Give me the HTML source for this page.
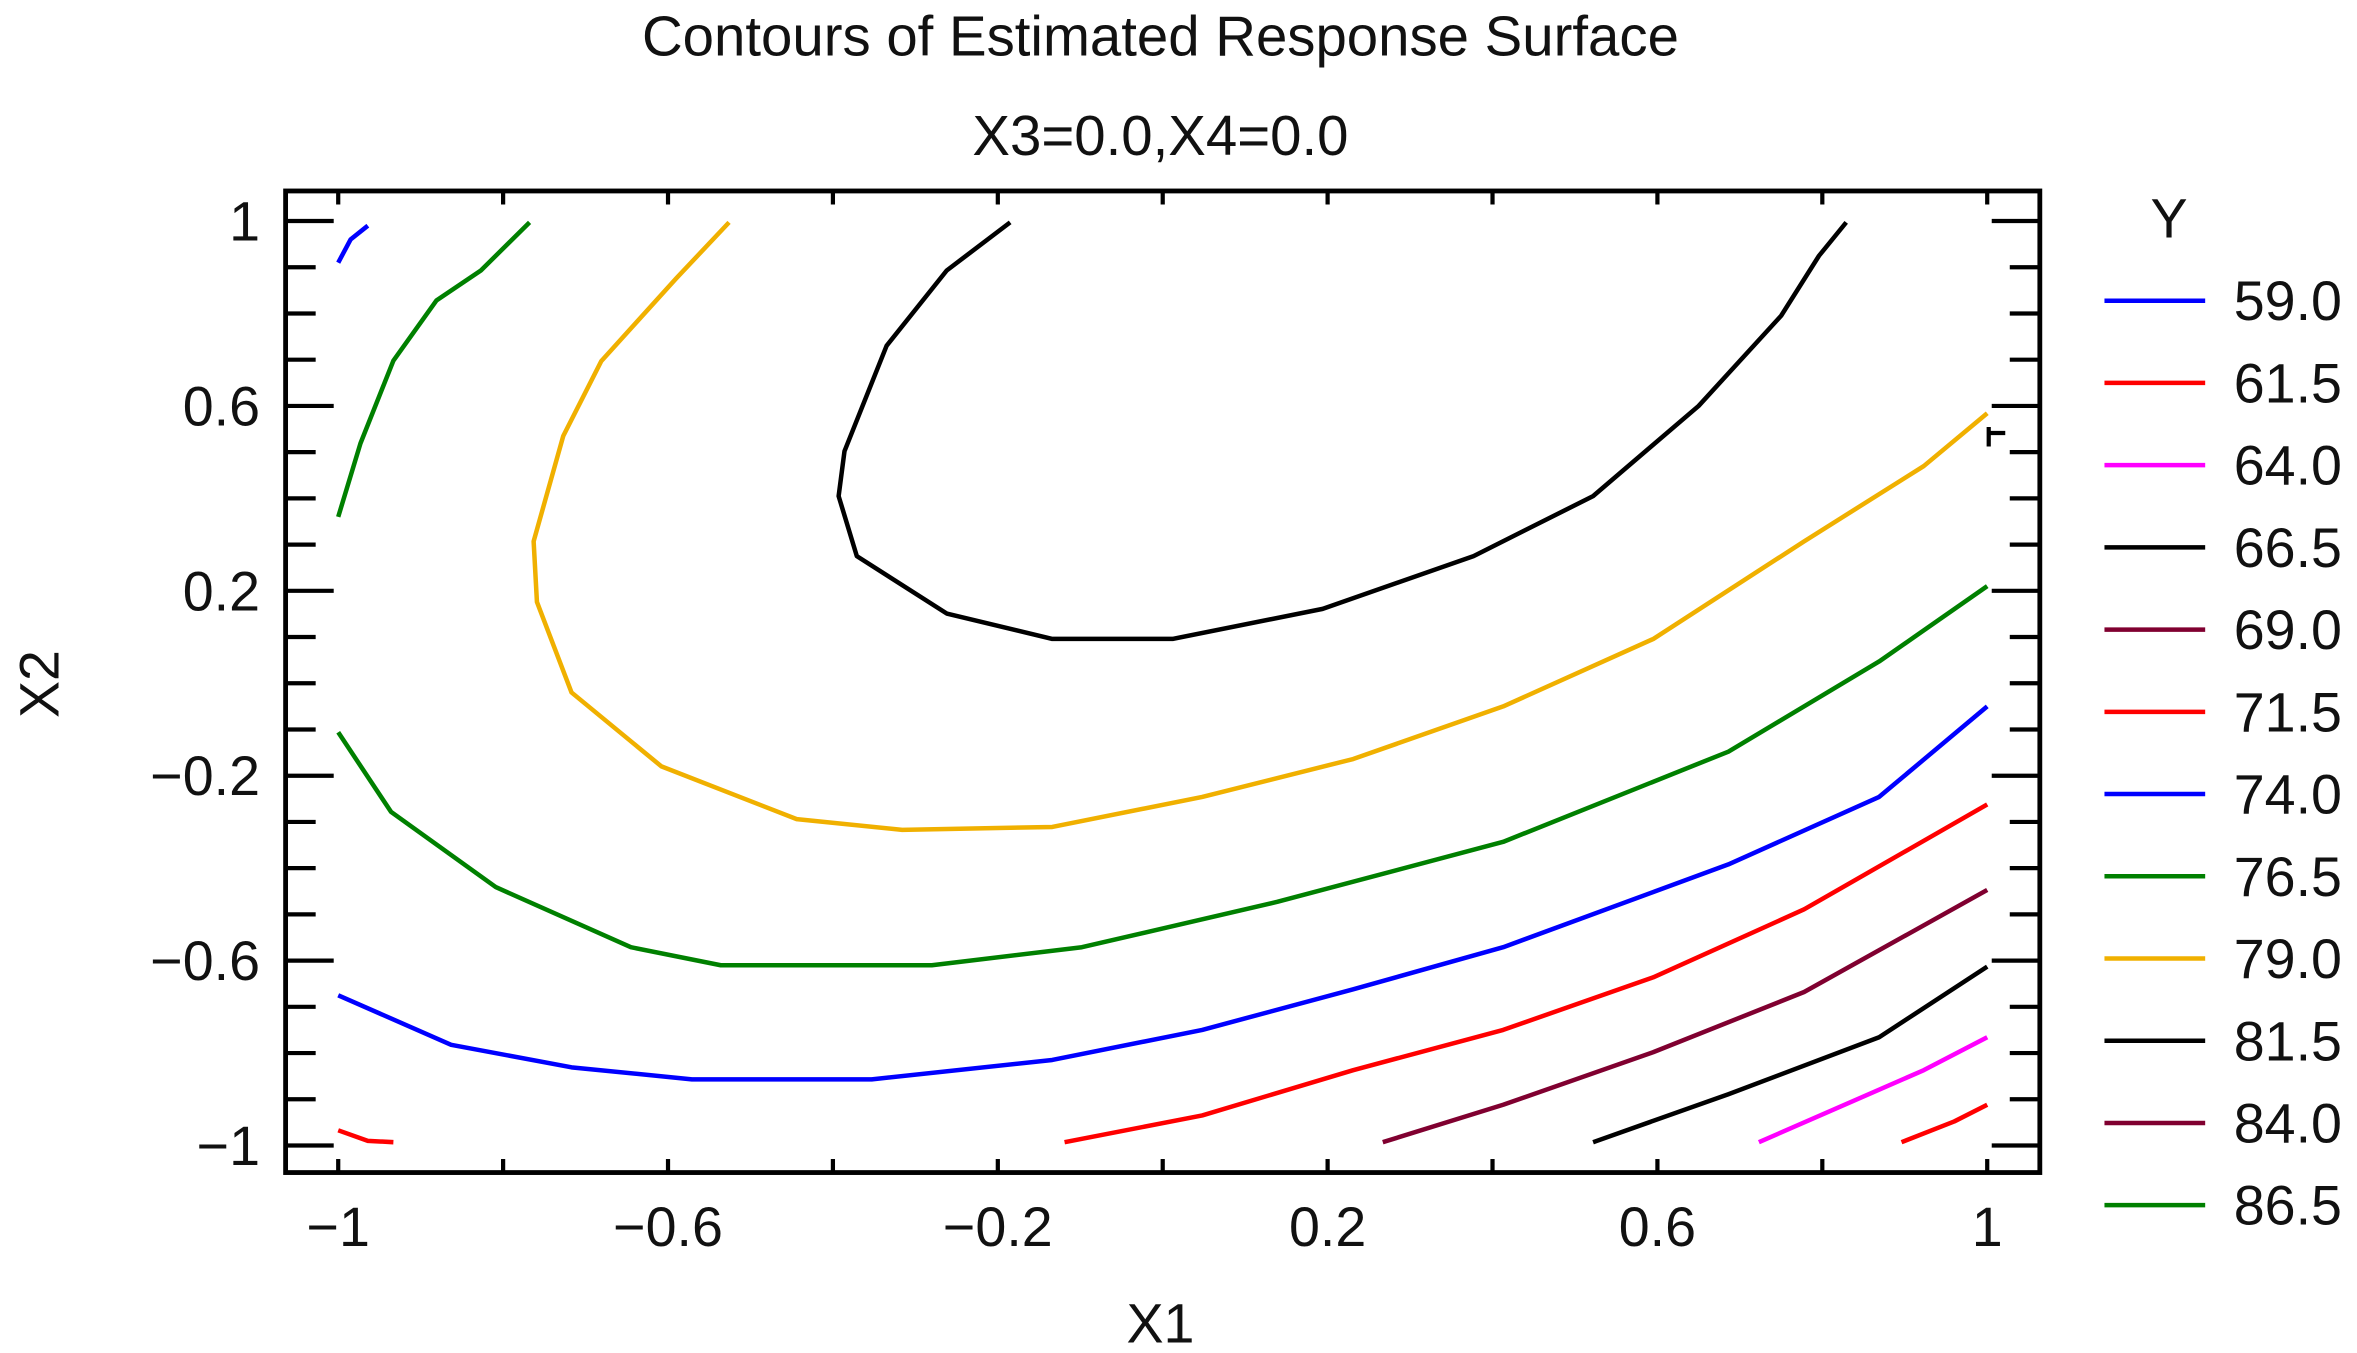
<!DOCTYPE html>
<html><head><meta charset="utf-8"><style>
html,body{margin:0;padding:0;background:#fff;}
svg{display:block;font-family:"Liberation Sans",Arial,sans-serif;}
</style></head><body>
<svg id="chart" width="2357" height="1353" viewBox="0 0 1568 900" xmlns="http://www.w3.org/2000/svg">
<text x="772" y="37" font-size="37.5" text-anchor="middle" fill="#111">Contours of Estimated Response Surface</text>
<text x="772" y="103" font-size="37.5" text-anchor="middle" fill="#111">X3=0.0,X4=0.0</text>
<text x="772" y="893" font-size="37" text-anchor="middle" fill="#111">X1</text>
<text x="0" y="0" font-size="37" text-anchor="middle" fill="#111" transform="translate(39,455) rotate(-90)">X2</text>
<g id="plot"></g>
<g id="legend"></g>
</svg>
<script>
const levels=["59.0","61.5","64.0","66.5","69.0","71.5","74.0","76.5","79.0","81.5","84.0","86.5"];
const levelColors=["#0000ff","#ff0000","#ff00ff","#000000","#800030","#ff0000","#0000ff","#008000","#f0b000","#000000","#800030","#008000"];
const xTicks=[-1,-0.6,-0.2,0.2,0.6,1];
const yTicks=[1,0.6,0.2,-0.2,-0.6,-1];
const c59=[[-1,0.91],[-0.985,0.96],[-0.964,0.99]];
const c61a=[[-1,-0.967],[-0.964,-0.99],[-0.933,-0.993]];
const c61b=[[0.896,-0.993],[0.96,-0.948],[1.0,-0.912]];
const c64=[[0.723,-0.993],[0.814,-0.922],[0.923,-0.837],[1.0,-0.766]];
const c66=[[-0.185,0.997],[-0.262,0.893],[-0.335,0.73],[-0.386,0.502],[-0.393,0.405],[-0.371,0.275],[-0.262,0.151],[-0.134,0.096],[0.012,0.096],[0.194,0.161],[0.377,0.275],[0.522,0.405],[0.65,0.6],[0.75,0.795],[0.796,0.925],[0.829,0.997]];
const c69=[[0.267,-0.993],[0.413,-0.912],[0.595,-0.798],[0.778,-0.668],[1.0,-0.447]];
const c71=[[-0.119,-0.993],[0.048,-0.935],[0.231,-0.837],[0.413,-0.75],[0.595,-0.636],[0.778,-0.489],[1.0,-0.262]];
const c74=[[-1,-0.675],[-0.863,-0.782],[-0.717,-0.831],[-0.571,-0.857],[-0.353,-0.857],[-0.134,-0.815],[0.048,-0.75],[0.231,-0.662],[0.413,-0.571],[0.686,-0.392],[0.869,-0.246],[1.0,-0.05]];
const c76=[[-1,-0.106],[-0.936,-0.278],[-0.809,-0.441],[-0.645,-0.571],[-0.536,-0.61],[-0.28,-0.61],[-0.098,-0.571],[0.139,-0.473],[0.413,-0.343],[0.686,-0.148],[0.869,0.047],[1.0,0.21]];
const c79=[[-0.526,0.997],[-0.59,0.876],[-0.681,0.697],[-0.727,0.535],[-0.763,0.307],[-0.759,0.176],[-0.717,-0.02],[-0.608,-0.18],[-0.444,-0.294],[-0.316,-0.317],[-0.134,-0.311],[0.048,-0.246],[0.231,-0.164],[0.413,-0.05],[0.595,0.096],[0.778,0.307],[0.923,0.47],[1.0,0.584]];
const c81=[[0.522,-0.993],[0.686,-0.889],[0.869,-0.766],[1.0,-0.613]];
const c86=[[-1,0.36],[-0.973,0.519],[-0.933,0.698],[-0.881,0.828],[-0.827,0.893],[-0.768,0.997]];
const curves=[[c59,0],[c61a,1],[c61b,1],[c64,2],[c66,3],[c69,4],[c71,5],[c74,6],[c76,7],[c79,8],[c81,9],[c86,7]];

const NS="http://www.w3.org/2000/svg";
const X=v=>225+(v+1)*548.5;
const Y=v=>147+(1-v)*307.5;
const plot=document.getElementById('plot');
function mk(tag,attrs,parent){const e=document.createElementNS(NS,tag);for(const k in attrs)e.setAttribute(k,attrs[k]);parent.appendChild(e);return e;}
const fmt=v=>(v<0?"\u2212":"")+String(Math.abs(v));
const fr=mk('rect',{x:190,y:127,width:1167,height:653,fill:'none',stroke:'#000','stroke-width':3.2},plot);


for(let i=0;i<=20;i++){const v=-1+i*0.1;const major=(i%4===0);const len=major?32:20;const y=Y(v);
 const t1=mk('line',{x1:190,x2:190+len,y1:y,y2:y,stroke:'#000','stroke-width':2.8},plot);
 
 
 const t2=mk('line',{x1:1357,x2:1357-len,y1:y,y2:y,stroke:'#000','stroke-width':2.8},plot);
 
 }
for(let i=0;i<=10;i++){const v=-1+i*0.2;const x=X(v);
 const t1=mk('line',{x1:x,x2:x,y1:780,y2:771,stroke:'#000','stroke-width':2.8},plot);
 
 
 const t2=mk('line',{x1:x,x2:x,y1:127,y2:136,stroke:'#000','stroke-width':2.8},plot);
 
 }
xTicks.forEach(v=>{const t=mk('text',{x:X(v),y:829,'font-size':37,'text-anchor':'middle',fill:'#111'},plot);t.textContent=fmt(v);
 
 });
yTicks.forEach(v=>{const t=mk('text',{x:173,y:Y(v)+13,'font-size':37,'text-anchor':'end',fill:'#111'},plot);t.textContent=fmt(v);
 
 });
curves.forEach(([pts,li])=>{const d=pts.map((p,i)=>(i?'L':'M')+X(p[0]).toFixed(1)+','+Y(p[1]).toFixed(1)).join('');
 const p=mk('path',{d:d,fill:'none',stroke:levelColors[li],'stroke-width':3,'stroke-linejoin':'round'},plot);
 
 });
const mark=mk('path',{d:'M1323,284 L1323,297 M1323,288 L1334,288',stroke:'#000','stroke-width':2.8,fill:'none'},plot);


const lg=document.getElementById('legend');
const yt=mk('text',{x:1443,y:158,'font-size':37,'text-anchor':'middle',fill:'#111'},lg);yt.textContent='Y';


levels.forEach((l,i)=>{const y=200+i*54.7;
 const ln=mk('line',{x1:1400,x2:1467,y1:y,y2:y,stroke:levelColors[i],'stroke-width':3},lg);
 
 
 const t=mk('text',{x:1486,y:y+13,'font-size':37,fill:'#111'},lg);t.textContent=l;
 
 });
</script>
</body></html>
